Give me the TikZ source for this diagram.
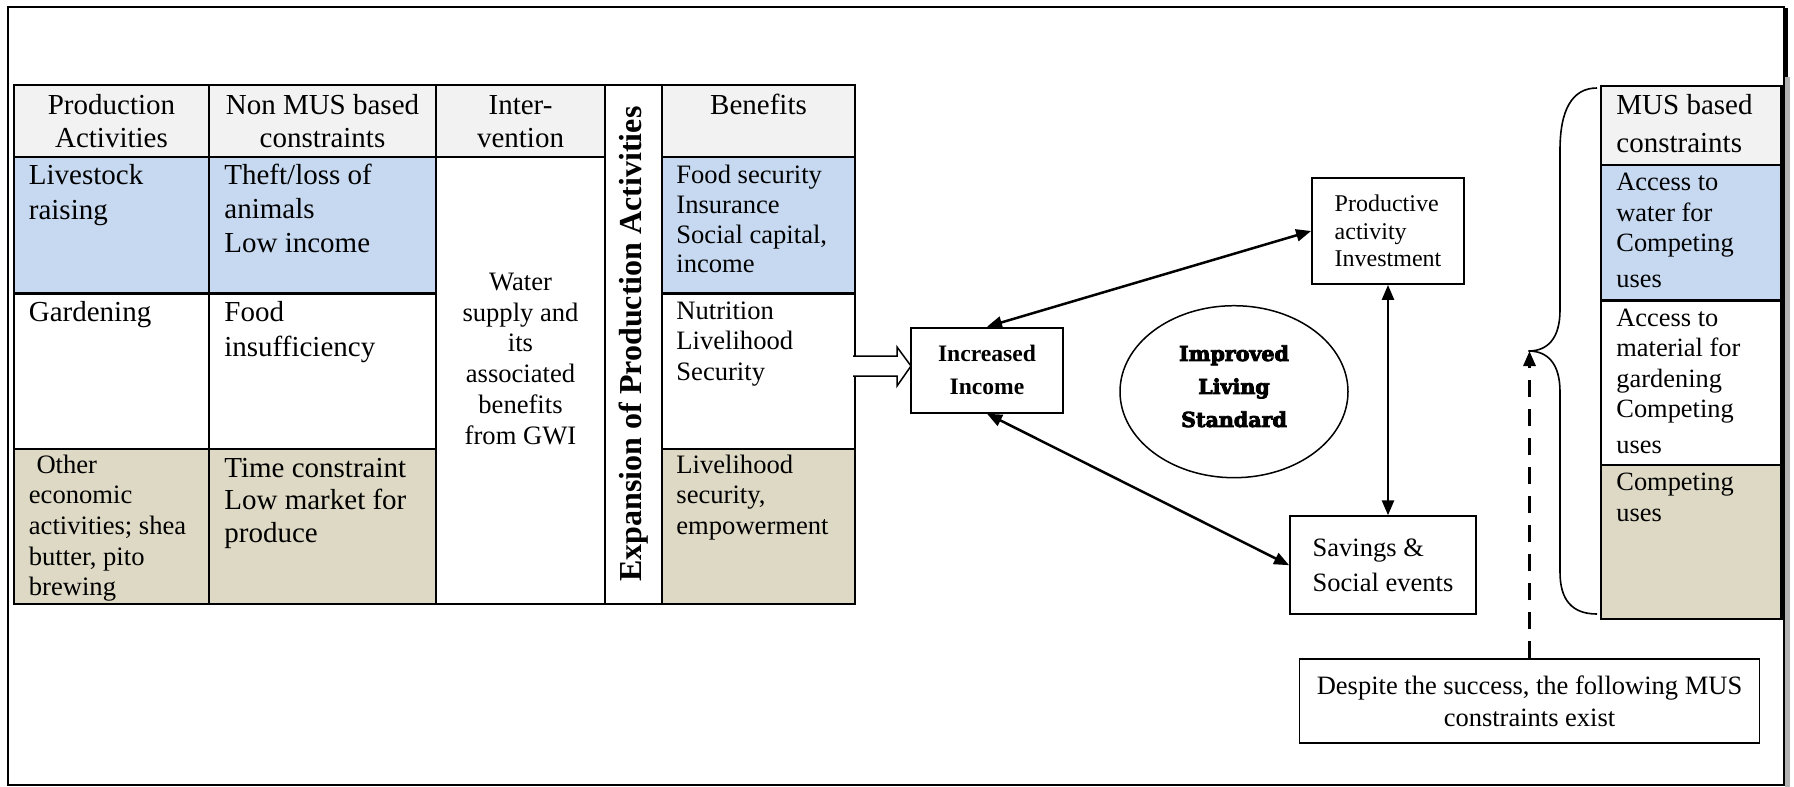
\documentclass[tikz,border=0pt]{standalone}
\usepackage{fontspec}
\setmainfont{Liberation Serif}
\newfontfamily\heavyfont[BoldFeatures={FakeBold=4}]{DejaVu Serif}
\usetikzlibrary{arrows.meta,shapes.geometric}
\definecolor{hdr}{RGB}{242,242,242}
\definecolor{blu}{RGB}{198,217,241}
\definecolor{tanc}{RGB}{221,217,196}
\newcommand\stt{\rule{0pt}{0.8em}}
\newcommand\myfs[2]{\fontsize{#1pt}{#2pt}\selectfont}
\begin{document}
\begin{tikzpicture}[x=0.5pt,y=-0.5pt,
  >={Triangle[length=7.5pt,width=6pt]},
  tl/.style={line width=1.1pt},
  cell/.style={anchor=north west, inner sep=0pt, align=left},
  hcell/.style={anchor=north, inner sep=0pt, align=center},
  box/.style={draw, line width=1pt, inner sep=0pt, fill=white},
  arr/.style={line width=1.25pt},
  ]
\useasboundingbox (0,0) rectangle (1794,787);
% outer frame
\draw[line width=1.2pt] (8,7) rectangle (1784,785);
\fill[gray!60] (1785,77) rectangle (1789.5,787);
\fill[black] (1784,8) rectangle (1788,77);

% left table fills
\fill[hdr] (14,85) rectangle (605,157);
\fill[hdr] (662,85) rectangle (855,157);
\fill[blu] (14,157) rectangle (436,293.5);
\fill[blu] (662,157) rectangle (855,293.5);
\fill[tanc] (14,449) rectangle (436,604);
\fill[tanc] (662,449) rectangle (855,604);
% left table lines
\draw[tl] (14,85) rectangle (855,604);
\draw[tl] (209,85) -- (209,604) (436,85) -- (436,604) (605,85) -- (605,604) (662,85) -- (662,604);
\draw[tl] (14,157) -- (605,157) (662,157) -- (855,157);
\draw[tl] (14,293.5) -- (436,293.5) (662,293.5) -- (855,293.5);
\draw[tl] (14,449) -- (436,449) (662,449) -- (855,449);

% headers
\node[hcell, font=\myfs{14.5}{16.7}] (hPA) at (111.5,90.5) {\stt Production\\Activities};
\node[hcell, font=\myfs{14.5}{16.7}] (hNM) at (322.5,90.5) {\stt Non MUS based\\constraints};
\node[hcell, font=\myfs{14.5}{16.7}] (hIN) at (520.5,90.5) {\stt Inter-\\vention};
\node[hcell, font=\myfs{14.5}{16.7}] (hBE) at (758.5,90.5) {\stt Benefits};

% body cells
\node[cell, font=\myfs{14.5}{17.5}] (cLS) at (28.5,160.5) {\stt Livestock\\raising};
\node[cell, font=\myfs{14.5}{17.15}] (cTL) at (224,160.5) {\stt Theft/loss of\\animals\\Low income};
\node[cell, font=\myfs{14.5}{17.5}] (cGA) at (28.5,297.5) {\stt Gardening};
\node[cell, font=\myfs{14.5}{17.5}] (cFI) at (224,297.5) {\stt Food\\insufficiency};
\node[cell, font=\myfs{13.3}{15.35}] (cOE) at (28.5,451.4) {\stt\hspace*{3.8pt}Other\\economic\\activities; shea\\butter, pito\\brewing};
\node[cell, font=\myfs{14.5}{16.25}] (cTC) at (224,453.5) {\stt Time constraint\\Low market for\\produce};
\node[hcell, font=\myfs{13.3}{15.35}] (cWS) at (520.5,268.9) {\stt Water\\supply and\\its\\associated\\benefits\\from GWI};
\node[cell, font=\myfs{13.3}{14.9}] (cB1) at (676,161.9) {\stt Food security\\Insurance\\Social capital,\\income};
\node[cell, font=\myfs{13.3}{15.1}] (cB2) at (676,298.1) {\stt Nutrition\\Livelihood\\Security};
\node[cell, font=\myfs{13.3}{15.35}] (cB3) at (676,451.4) {\stt Livelihood\\security,\\empowerment};
\node[rotate=90, inner sep=0pt, font=\myfs{16}{19}\bfseries] (exp) at (633.5,344) {Expansion of Production Activities};

% MUS table
\fill[hdr] (1601,86) rectangle (1781.5,165);
\fill[blu] (1601,165) rectangle (1781.5,300.5);
\fill[tanc] (1601,464.6) rectangle (1781.5,619.3);
\draw[tl] (1601,86) rectangle (1781.5,619.3);
\draw[tl] (1601,165) -- (1781.5,165) (1601,300.5) -- (1781.5,300.5) (1601,464.6) -- (1781.5,464.6);
\node[cell, font=\myfs{14.5}{18.75}] (mH) at (1616,91.2) {\stt MUS based\\constraints};
\node[cell, font=\myfs{13.2}{15.15}] (m1) at (1616,169.3) {\stt Access to\\water for\\Competing\\[2.7pt]uses};
\node[cell, font=\myfs{13.2}{15.15}] (m2) at (1616,305) {\stt Access to\\material for\\gardening\\Competing\\[2.8pt]uses};
\node[cell, font=\myfs{13.2}{15.15}] (m3) at (1616,469.3) {\stt Competing\\uses};

% hollow arrow
\draw[line width=0.75pt, fill=white] (853,356) -- (897,356) -- (897,347) -- (911,366) -- (897,386) -- (897,376) -- (853,376);

% boxes
\node[box, minimum width=76pt, minimum height=42.5pt, align=center, font=\myfs{11.8}{16.35}\bfseries] (Inc) at (987,370.2) {Increased\\Income};
\node[box, line width=0.9pt, minimum width=76pt, minimum height=53pt, align=left, font=\myfs{12}{13.75}] (Prod) at (1388,231) {Productive\\activity\\Investment};
\node[box, line width=0.9pt, minimum width=93pt, minimum height=49pt, align=left, font=\myfs{13.25}{17.5}] (Sav) at (1383,565.2) {Savings \&\\Social events};
\node[box, line width=0.9pt, minimum width=230pt, minimum height=41.7pt, align=center, font=\myfs{13.25}{15.8}] (Desp) at (1529.5,701) {Despite the success, the following MUS\\constraints exist};
\node[draw, ellipse, line width=0.75pt, inner sep=0pt, minimum width=114pt, minimum height=86pt] (ILS) at (1234,391.7) {};
\node[inner sep=0pt, align=center, font=\heavyfont\bfseries\myfs{10.3}{16.5}] (ILSt) at (1234,386.3) {Improved\\Living\\Standard};

% connectors
\draw[arr, <->] (Inc.north) -- (Prod.west);
\draw[arr, <->] (Inc.south) -- (Sav.west);
\draw[arr, <->] (Prod.south) -- (Prod.south |- Sav.north);

% brace
\coordinate (bracetip) at (1528.5,351);
\draw[line width=0.8pt] (1597,88) .. controls (1572,88) and (1560,110) .. (1560,150) -- (1560,310) .. controls (1560,338) and (1548,351) .. (bracetip) .. controls (1548,351) and (1560,364) .. (1560,392) -- (1560,572) .. controls (1560,600) and (1572,614) .. (1597,614);
\draw[line width=1.5pt, dash pattern=on 8.5pt off 6pt, ->] (Desp.north) -- (Desp.north |- bracetip);
\end{tikzpicture}
\end{document}
